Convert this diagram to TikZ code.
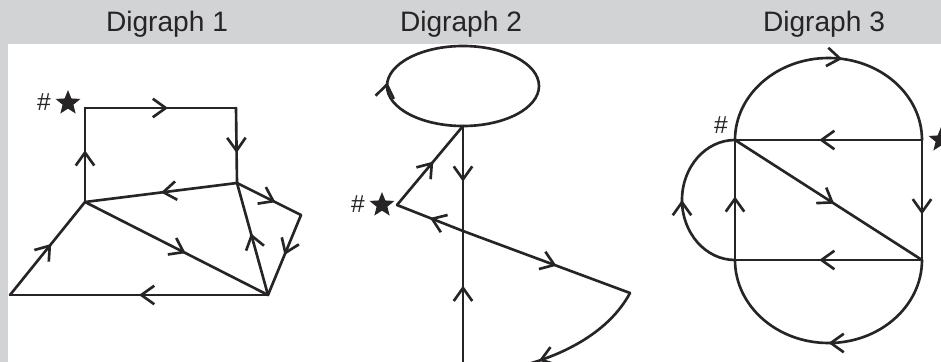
\documentclass[tikz,border=0pt]{standalone}
\usepackage{fontspec}
\setmainfont{Liberation Sans}
\usetikzlibrary{arrows.meta}
\usetikzlibrary{decorations.markings}
\usetikzlibrary{shapes.geometric}
\definecolor{ink}{RGB}{38,36,37}
\definecolor{panelgray}{RGB}{209,211,212}

\tikzset{
edge/.style={line width=1.5pt, color=ink, line cap=round},
midarrow/.style={postaction={decorate, decoration={markings, mark=at position #1 with {\arrow{Straight Barb[length=2.6mm, width=3.7mm]}}}}},
midarrow/.default=0.55,
starmark/.style={star, star points=5, star point ratio=2.3, fill=ink, inner sep=0pt, minimum size=0.52cm},
hashmark/.style={text=ink, font=\fontsize{14}{14}\selectfont, inner sep=0pt},
heading/.style={text=ink, font=\fontsize{16}{16}\selectfont, inner sep=0pt}
}

\begin{document}
\begin{tikzpicture}[x=0.02cm, y=-0.02cm]
\clip (0,0) rectangle (941,362);
\fill[panelgray] (0,0) rectangle (941,362);
\fill[white] (8,44) rectangle (941,362);

\node[heading] (t1) at (167,24) {Digraph 1};
\node[heading] (t2) at (461,24) {Digraph 2};
\node[heading] (t3) at (824,24) {Digraph 3};

\coordinate (A1) at (85,108);
\coordinate (A2) at (236,108);
\coordinate (A3) at (237,183);
\coordinate (A4) at (85,202);
\coordinate (A5) at (301,215);
\coordinate (A6) at (268,295);
\coordinate (A7) at (10,295);

\draw[edge, midarrow] (A1) -- (A2);
\draw[edge, midarrow=0.6] (A2) -- (A3);
\draw[edge, midarrow=0.5] (A3) -- (A4);
\draw[edge, midarrow=0.55] (A4) -- (A1);
\draw[edge, midarrow=0.6] (A3) -- (A5);
\draw[edge, midarrow=0.5] (A5) -- (A6);
\draw[edge, midarrow=0.55] (A6) -- (A3);
\draw[edge, midarrow=0.55] (A4) -- (A6);
\draw[edge, midarrow=0.5] (A6) -- (A7);
\draw[edge, midarrow=0.55] (A7) -- (A4);
\node[starmark] (s1) at (68,103) {};
\node[hashmark] (h1) at (44,102) {\#};

\coordinate (B1) at (463,126);
\coordinate (B2) at (397,205);
\coordinate (B3) at (463,231);
\coordinate (B4) at (630,293);
\coordinate (B5) at (463,375);

\draw[edge, midarrow=0.26] (B1) arc[start angle=90, end angle=450, x radius=76, y radius=40];
\draw[edge, midarrow=0.55] (B2) -- (B1);
\draw[edge, midarrow=0.53] (B1) -- (B3);
\draw[edge, midarrow=0.5] (B3) -- (B2);
\draw[edge, midarrow=0.56] (B3) -- (B4);
\draw[edge, midarrow=0.62] (B5) -- (B3);
\draw[edge, midarrow=0.6] (B4) .. controls (605,340) and (540,370) .. (B5);
\node[starmark] (s2) at (382,205) {};
\node[hashmark] (h2) at (358,204) {\#};

\coordinate (C1) at (735,140);
\coordinate (C2) at (922,140);
\coordinate (C3) at (922,260);
\coordinate (C4) at (735,260);

\draw[edge, midarrow=0.55] (C1) arc[start angle=180, end angle=360, x radius=93.5, y radius=82];
\draw[edge, midarrow=0.5] (C3) arc[start angle=0, end angle=180, x radius=93.5, y radius=83];
\draw[edge, midarrow=0.5] (C4) arc[start angle=90, end angle=270, x radius=53, y radius=60];
\draw[edge, midarrow=0.55] (C2) -- (C1);
\draw[edge, midarrow=0.53] (C1) -- (C3);
\draw[edge, midarrow=0.62] (C2) -- (C3);
\draw[edge, midarrow=0.55] (C3) -- (C4);
\draw[edge, midarrow=0.53] (C4) -- (C1);
\node[starmark] (s3) at (941,140) {};
\node[hashmark] (h3) at (721,125) {\#};
\end{tikzpicture}
\end{document}
